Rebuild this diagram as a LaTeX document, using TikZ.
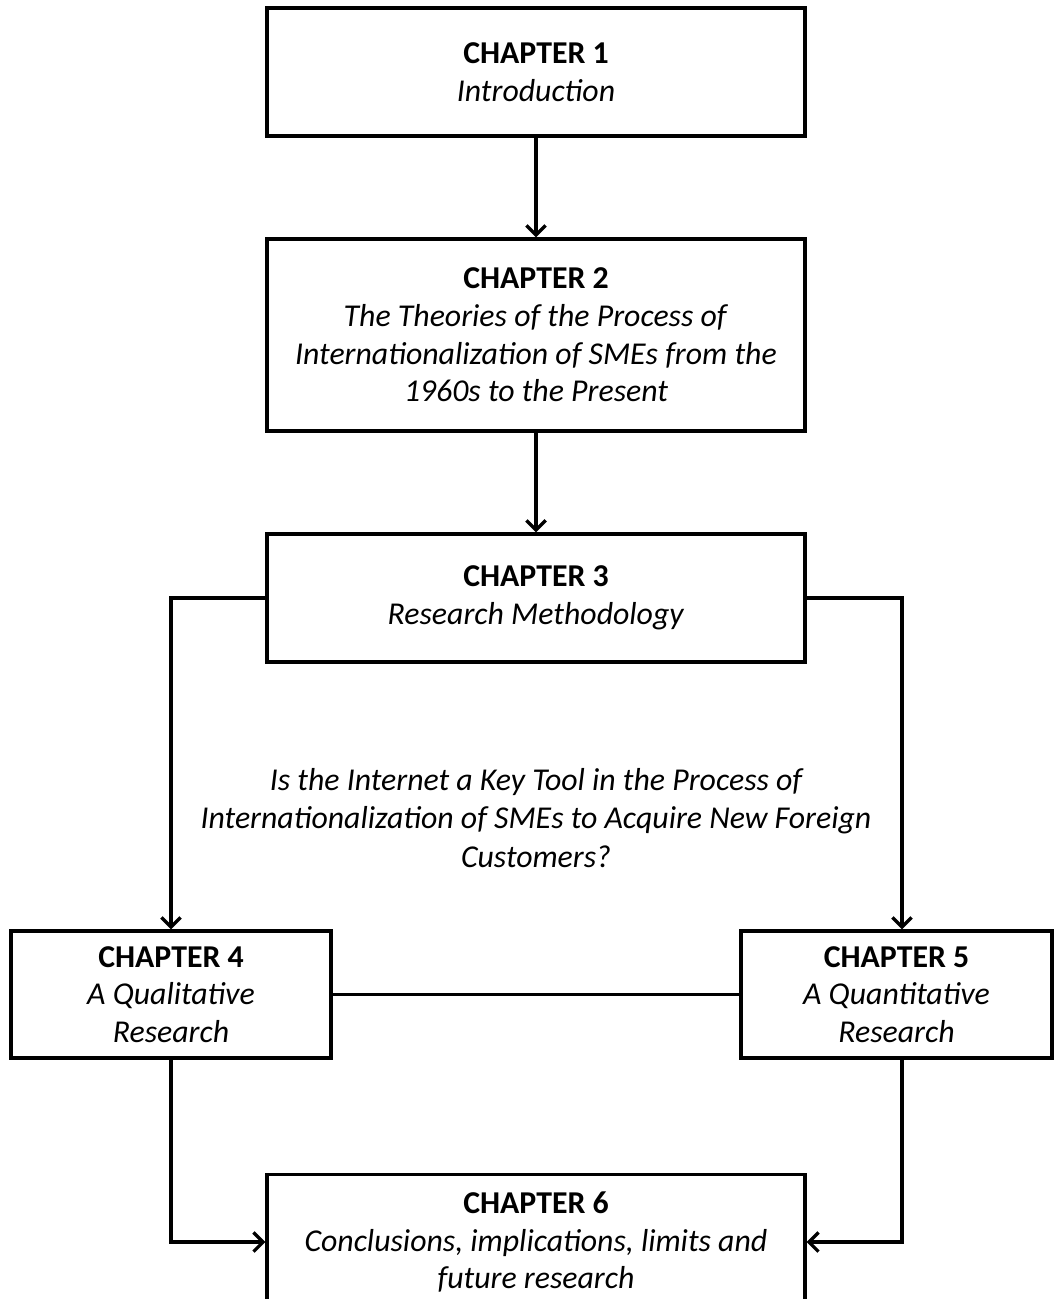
\documentclass[tikz,border=0pt]{standalone}
\usepackage{fontspec}
\setmainfont{Carlito}
\usetikzlibrary{arrows.meta,calc}
\begin{document}
\begin{tikzpicture}[x=0.02cm,y=-0.02cm,
  box/.style={draw,line width=1.8pt,align=center,inner sep=0pt,
    font=\fontsize{18.1}{21.5}\selectfont},
  conn/.style={line width=1.9pt},
  arr/.style={conn,-{Straight Barb[length=5.5pt,width=11pt]}},
  lbl/.style={align=center,font=\fontsize{18.1}{21.9}\selectfont\itshape}]
\useasboundingbox (0,0) rectangle (1054,1299);
\node[box,minimum width=10.76cm,minimum height=2.56cm] (b1) at (536,72)
  {\textbf{CHAPTER 1}\\\textit{Introduction}};
\node[box,minimum width=10.76cm,minimum height=3.84cm] (b2) at (536,335)
  {\textbf{CHAPTER 2}\\\textit{The Theories of the Process of}\\\textit{Internationalization of SMEs from the}\\\textit{1960s to the Present}};
\node[box,minimum width=10.76cm,minimum height=2.56cm] (b3) at (536,598)
  {\textbf{CHAPTER 3}\\\textit{Research Methodology}};
\node[box,minimum width=6.4cm,minimum height=2.54cm] (b4) at (171,994.5)
  {\textbf{CHAPTER 4}\\\textit{A Qualitative}\\\textit{Research}};
\node[box,minimum width=6.22cm,minimum height=2.54cm] (b5) at (896.5,994.5)
  {\textbf{CHAPTER 5}\\\textit{A Quantitative}\\\textit{Research}};
\node[box,minimum width=10.76cm,minimum height=2.7cm] (b6) at (536,1242)
  {\textbf{CHAPTER 6}\\\textit{Conclusions, implications, limits and}\\\textit{future research}};
\node[lbl] (q) at (536,818)
  {Is the Internet a Key Tool in the Process of\\Internationalization of SMEs to Acquire New Foreign\\Customers?};
\coordinate (c5n) at ($(b5.north)+(5.5,0)$);
\coordinate (c5s) at ($(b5.south)+(5.5,0)$);
\draw[arr] (b1) -- (b2);
\draw[arr] (b2) -- (b3);
\draw[arr] (b3.west) -| (b4.north);
\draw[arr] (b3.east) -| (c5n);
\draw[conn] (b4.east) -- (b5.west);
\draw[arr] (b4.south) |- (b6.west);
\draw[arr] (c5s) |- (b6.east);
\end{tikzpicture}
\end{document}
